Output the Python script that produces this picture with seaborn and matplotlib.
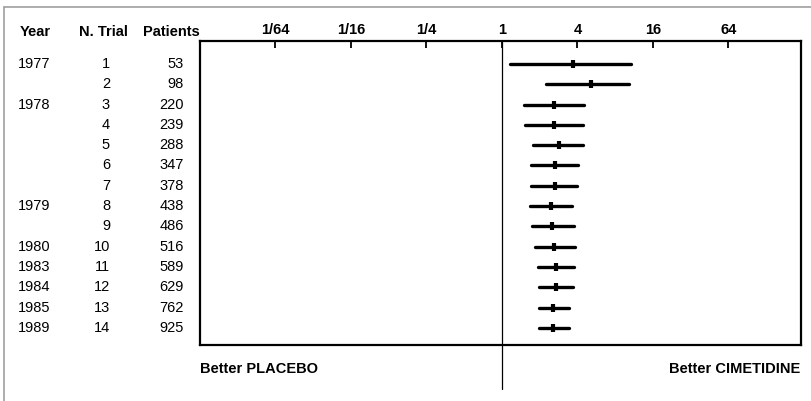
import numpy as np
import pandas as pd
import matplotlib
matplotlib.use("Agg")
import matplotlib.pyplot as plt
import matplotlib.transforms as mtransforms
from matplotlib.lines import Line2D
import seaborn as sns

# Cumulative meta-analysis: cimetidine vs placebo (odds ratios, 95% CI)
years = ["1977", "", "1978", "", "", "", "", "1979", "", "1980", "1983", "1984", "1985", "1989"]
trials = list(range(1, 15))
patients = [53, 98, 220, 239, 288, 347, 378, 438, 486, 516, 589, 629, 762, 925]
odds_ratio = [3.66, 5.12, 2.60, 2.60, 2.83, 2.63, 2.63, 2.45, 2.52, 2.60, 2.68, 2.68, 2.57, 2.57]
ci_low = [1.17, 2.26, 1.50, 1.52, 1.77, 1.69, 1.72, 1.68, 1.74, 1.82, 1.93, 1.97, 1.97, 1.97]
ci_high = [10.7, 10.4, 4.51, 4.42, 4.45, 4.06, 3.96, 3.59, 3.73, 3.80, 3.77, 3.68, 3.42, 3.42]
tick_values = [1/64, 1/16, 1/4, 1, 4, 16, 64]
tick_labels = ["1/64", "1/16", "1/4", "1", "4", "16", "64"]

sns.set_theme(style="white")
plt.rcParams["font.family"] = ["Liberation Sans", "DejaVu Sans"]
plt.rcParams["text.color"] = "black"
plt.rcParams["xtick.color"] = "black"

W, H = 811, 401
fig = plt.figure(figsize=(W / 100, H / 100), dpi=100)

def fx(px):
    return px / W

def fy(py):
    return 1 - py / H

# light outer frame
fig.add_artist(Line2D([fx(4), 1], [fy(7), fy(7)], color="#a0a0a0", lw=1.2, transform=fig.transFigure))
fig.add_artist(Line2D([fx(4), fx(4)], [fy(7), 0], color="#a0a0a0", lw=1.2, transform=fig.transFigure))

ax_l, ax_r, ax_t, ax_b = 200, 800.5, 41, 345
ax = fig.add_axes([fx(ax_l), fy(ax_b), fx(ax_r - ax_l), (ax_b - ax_t) / H])

ci_df = pd.DataFrame({
    "trial": np.repeat(trials, 2),
    "x": np.ravel(np.column_stack([ci_low, ci_high])),
})
pt_df = pd.DataFrame({"trial": trials, "x": odds_ratio})

sns.lineplot(data=ci_df, x="x", y="trial", units="trial", estimator=None,
             sort=False, orient="y", color="black", lw=2.4, ax=ax)
sns.scatterplot(data=pt_df, x="x", y="trial", marker="|", s=36, linewidth=3,
                color="black", ax=ax, zorder=3)

ax.set_xscale("log", base=2)
ax.set_xlim(2 ** -8.0, 2 ** 7.91)
ax.set_ylim(14.84, -0.13)
ax.set_xticks(tick_values)
ax.set_xticklabels(tick_labels, fontweight="bold", fontsize=10.5)
ax.minorticks_off()
ax.set_yticks([])
ax.set_xlabel("")
ax.set_ylabel("")
ax.xaxis.tick_top()
ax.tick_params(axis="x", direction="in", length=5, width=1.3, pad=3, colors="black")
for s in ax.spines.values():
    s.set_visible(True)
    s.set_linewidth(1.6)
    s.set_color("black")

# line of no effect, extended below the frame
ax.axvline(1, ymin=-(389 - ax_b) / (ax_b - ax_t), ymax=1, color="black", lw=0.9, clip_on=False)

# table columns on the left
tr = mtransforms.blended_transform_factory(fig.transFigure, ax.transData)
fs = 10.5
for i, t in enumerate(trials):
    ax.text(fx(18), t, years[i], transform=tr, ha="left", va="center", fontsize=fs)
    ax.text(fx(110), t, str(t), transform=tr, ha="right", va="center", fontsize=fs)
    ax.text(fx(184), t, str(patients[i]), transform=tr, ha="right", va="center", fontsize=fs)

hy = fy(32)
fig.text(fx(20), hy, "Year", ha="left", va="center", fontsize=fs, fontweight="bold")
fig.text(fx(103), hy, "N. Trial", ha="center", va="center", fontsize=fs, fontweight="bold")
fig.text(fx(200), hy, "Patients", ha="right", va="center", fontsize=fs, fontweight="bold")

fig.text(fx(200), fy(369), "Better PLACEBO", ha="left", va="center", fontsize=fs, fontweight="bold")
fig.text(fx(800), fy(369), "Better CIMETIDINE", ha="right", va="center", fontsize=fs, fontweight="bold")

fig.savefig("out.png", dpi=100)
